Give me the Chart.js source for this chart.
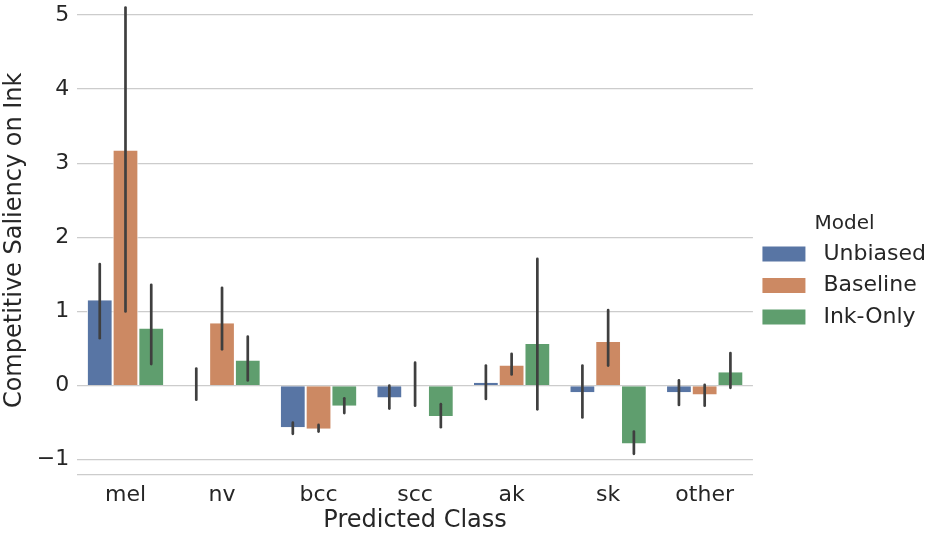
<!DOCTYPE html>
<html>
<head>
<meta charset="utf-8">
<script src="https://cdn.jsdelivr.net/npm/chart.js@4/dist/chart.umd.min.js"></script>
<style>
  body { margin: 0; background: #fff; }
  #wrap { width: 944px; height: 539px; }
</style>
</head>
<body>
<div id="wrap"><canvas id="saliency-chart"></canvas></div>
<script>
// values
const classes = ['mel', 'nv', 'bcc', 'scc', 'ak', 'sk', 'other'];
const models = ['Unbiased', 'Baseline', 'Ink-Only'];

const unbiased = [1.15, 0.0, -0.56, -0.16, 0.04, -0.09, -0.09];
const unbiasedLo = [0.64, -0.19, -0.65, -0.31, -0.18, -0.43, -0.26];
const unbiasedHi = [1.64, 0.23, -0.50, 0.0, 0.27, 0.27, 0.07];

const baseline = [3.17, 0.84, -0.58, 0.0, 0.27, 0.59, -0.12];
const baselineLo = [1.0, 0.49, -0.62, -0.27, 0.15, 0.27, -0.27];
const baselineHi = [5.1, 1.32, -0.53, 0.31, 0.43, 1.02, 0.01];

const inkOnly = [0.77, 0.34, -0.27, -0.41, 0.56, -0.78, 0.18];
const inkOnlyLo = [0.29, 0.07, -0.37, -0.56, -0.32, -0.92, -0.03];
const inkOnlyHi = [1.36, 0.66, -0.17, -0.25, 1.71, -0.62, 0.44];

const yTicks = [-1, 0, 1, 2, 3, 4, 5];

const colors = ['#5875a4', '#cc8963', '#5f9e6e'];
const textColor = '#262626';
const fontFamily = '"DejaVu Sans", sans-serif';

function makeSet(label, values, lo, hi, color) {
    return {
        label: label,
        data: values,
        errLo: lo,
        errHi: hi,
        backgroundColor: color,
        borderColor: '#ffffff',
        borderWidth: { left: 1, right: 1, top: 0, bottom: 0 },
        borderSkipped: false,
        categoryPercentage: 0.8,
        barPercentage: 1.0
    };
}

// draws the confidence interval lines on top of each bar
const errorBars = {
    id: 'errorBars',
    afterDatasetsDraw(chart) {
        const ctx = chart.ctx;
        const yScale = chart.scales.y;
        ctx.save();
        ctx.strokeStyle = '#3f3f3f';
        ctx.lineWidth = 2.7;
        ctx.lineCap = 'round';
        chart.data.datasets.forEach((ds, i) => {
            const meta = chart.getDatasetMeta(i);
            meta.data.forEach((bar, j) => {
                ctx.beginPath();
                ctx.moveTo(bar.x, yScale.getPixelForValue(ds.errLo[j]));
                ctx.lineTo(bar.x, yScale.getPixelForValue(ds.errHi[j]));
                ctx.stroke();
            });
        });
        ctx.restore();
    }
};

var ctx = document.getElementById('saliency-chart').getContext('2d');
window.saliencyChart = new Chart(ctx, {
    type: 'bar',
    data: {
        labels: classes,
        datasets: [
            makeSet(models[0], unbiased, unbiasedLo, unbiasedHi, colors[0]),
            makeSet(models[1], baseline, baselineLo, baselineHi, colors[1]),
            makeSet(models[2], inkOnly, inkOnlyLo, inkOnlyHi, colors[2])
        ]
    },
    options: {
        responsive: true,
        maintainAspectRatio: false,
        animation: false,
        layout: {
            padding: { top: 6, right: 8, left: 0, bottom: 6 }
        },
        scales: {
            x: {
                grid: { display: false, drawTicks: false },
                border: { display: true, color: '#cccccc', width: 1.3 },
                ticks: {
                    color: textColor,
                    font: { family: fontFamily, size: 22 },
                    padding: 7
                },
                title: {
                    display: true,
                    text: 'Predicted Class',
                    color: textColor,
                    font: { family: fontFamily, size: 24, lineHeight: 1.0 },
                    padding: { top: -6, bottom: 0 }
                }
            },
            y: {
                min: -1.2,
                max: 5.12,
                afterBuildTicks(axis) {
                    axis.ticks = yTicks.map(v => ({ value: v }));
                },
                afterFit(axis) {
                    axis.paddingTop = 0;
                    axis.paddingBottom = 0;
                },
                grid: { color: '#cccccc', lineWidth: 1.3, drawTicks: false },
                border: { display: false },
                ticks: {
                    color: textColor,
                    font: { family: fontFamily, size: 22 },
                    padding: 8,
                    callback: (v) => String(v).replace('-', '\u2212')
                },
                title: {
                    display: true,
                    text: 'Competitive Saliency on Ink',
                    color: textColor,
                    font: { family: fontFamily, size: 24 },
                    padding: { top: 0, bottom: 0 }
                }
            }
        },
        plugins: {
            legend: {
                position: 'right',
                title: {
                    display: true,
                    text: 'Model',
                    color: textColor,
                    font: { family: fontFamily, size: 20 },
                    padding: { top: 12, bottom: -4 }
                },
                labels: {
                    boxWidth: 43,
                    boxHeight: 15,
                    padding: 9.5,
                    color: textColor,
                    font: { family: fontFamily, size: 22 },
                    generateLabels(chart) {
                        const items = Chart.defaults.plugins.legend.labels.generateLabels(chart);
                        items.forEach(it => { it.text = ' ' + it.text; it.lineWidth = 0; });
                        return items;
                    }
                }
            },
            tooltip: { enabled: false }
        }
    },
    plugins: [errorBars]
});
</script>
</body>
</html>
